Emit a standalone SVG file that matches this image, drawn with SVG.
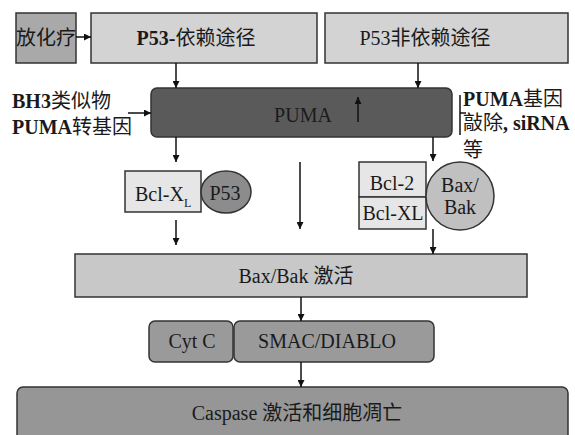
<svg xmlns="http://www.w3.org/2000/svg" width="575" height="435" viewBox="0 0 575 435">
<defs>
<marker id="ah" viewBox="0 0 10 10" refX="10" refY="5" markerWidth="7" markerHeight="7" markerUnits="userSpaceOnUse" orient="auto">
<path d="M0,0 L10,5 L0,10 z" fill="#111"/>
</marker>
<style>
text{font-family:"Liberation Serif","Times New Roman","Noto Sans CJK SC",serif;fill:#1a1a1a;font-size:20px}
.c{text-anchor:middle}
.b{font-weight:bold}
.box{stroke:#333;stroke-width:1.5}
.ln{stroke:#111;stroke-width:1.5;fill:none}
.ar{stroke:#111;stroke-width:1.5;fill:none;marker-end:url(#ah)}
</style>
</defs>
<rect width="575" height="435" fill="#fff"/>

<g id="n-radio">
<rect class="box" x="16" y="13" width="60" height="50" fill="#a9a9a9"/>
<text x="46" y="45" class="c">放化疗</text>
</g>
<g id="n-p53dep">
<rect class="box" x="91" y="13" width="226" height="50" fill="#d3d3d3"/>
<text x="196" y="45" class="c"><tspan class="b">P53-</tspan>依赖途径</text>
</g>
<g id="n-p53indep">
<rect class="box" x="325" y="13" width="243" height="50" fill="#d3d3d3"/>
<text x="425" y="45" class="c">P53非依赖途径</text>
</g>
<g id="n-bh3">
<text x="12" y="108"><tspan class="b">BH3</tspan>类似物</text>
<text x="12" y="134"><tspan class="b">PUMA</tspan>转基因</text>
</g>
<g id="n-puma">
<rect class="box" x="151" y="88" width="301" height="49" rx="6" fill="#5a5a5a"/>
<text x="303" y="122" class="c">PUMA</text>
<line class="ar" x1="358" y1="122" x2="358" y2="97"/>
</g>
<g id="n-knock">
<line class="ln" x1="460" y1="95" x2="460" y2="135"/>
<line class="ln" x1="460" y1="113" x2="466" y2="113"/>
<text x="463" y="106"><tspan class="b">PUMA</tspan>基因</text>
<text x="463" y="130">敲除<tspan class="b">, siRNA</tspan></text>
<text x="463" y="157">等</text>
</g>
<g id="n-bclxl">
<rect class="box" x="125" y="171" width="76" height="41" fill="#e6e6e6"/>
<text x="135" y="201">Bcl-X<tspan font-size="12" dy="6">L</tspan></text>
</g>
<g id="n-p53">
<ellipse class="box" cx="226" cy="192" rx="25" ry="21" fill="#8c8c8c"/>
<text x="225" y="200" class="c">P53</text>
</g>
<g id="n-bcl2">
<rect class="box" x="359" y="162" width="67" height="35" fill="#e6e6e6"/>
<text x="392" y="190" class="c">Bcl-2</text>
<rect class="box" x="359" y="197" width="67" height="32" fill="#e6e6e6"/>
<text x="393" y="220" class="c">Bcl-XL</text>
</g>
<g id="n-baxbak">
<circle class="box" cx="460" cy="196" r="34" fill="#c0c0c0"/>
<text x="460" y="192" class="c">Bax/</text>
<text x="460" y="214" class="c">Bak</text>
</g>
<g id="n-act">
<rect class="box" x="75" y="254" width="452" height="43" fill="#c8c8c8"/>
<text x="296" y="283" class="c">Bax/Bak 激活</text>
</g>
<g id="n-cytc">
<rect class="box" x="149" y="321" width="84" height="41" rx="6" fill="#9a9a9a"/>
<text x="192" y="348" class="c">Cyt C</text>
</g>
<g id="n-smac">
<rect class="box" x="234" y="321" width="200" height="41" rx="6" fill="#9a9a9a"/>
<text x="327" y="348" class="c">SMAC/DIABLO</text>
</g>
<g id="n-casp">
<rect class="box" x="17" y="387" width="551" height="60" rx="6" fill="#969696"/>
<text x="297" y="420" class="c">Caspase 激活和细胞凋亡</text>
</g>

<g id="connectors">
<line class="ar" x1="76" y1="37" x2="91" y2="37"/>
<line class="ar" x1="176" y1="63" x2="176" y2="88"/>
<line class="ar" x1="418" y1="63" x2="418" y2="88"/>
<line class="ar" x1="128" y1="113" x2="151" y2="113"/>
<line class="ar" x1="176" y1="137" x2="176" y2="162"/>
<line class="ar" x1="433" y1="137" x2="433" y2="161"/>
<line class="ar" x1="300" y1="162" x2="300" y2="229"/>
<line class="ar" x1="176" y1="220" x2="176" y2="245"/>
<line class="ar" x1="433" y1="229" x2="433" y2="254"/>
<line class="ar" x1="301" y1="297" x2="301" y2="321"/>
<line class="ar" x1="301" y1="362" x2="301" y2="387"/>
</g>
</svg>
